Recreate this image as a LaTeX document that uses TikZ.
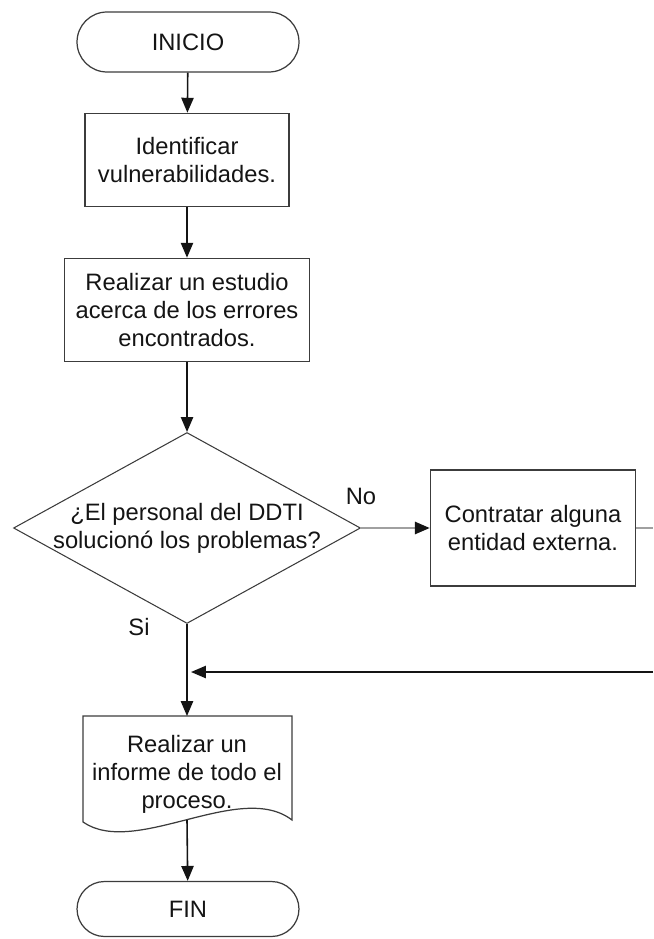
\documentclass[tikz,border=0pt]{standalone}
\usepackage{fontspec}
\setmainfont{Liberation Sans}
\usetikzlibrary{arrows.meta,positioning,shapes.geometric,shapes.misc}
\definecolor{inkcolor}{RGB}{20,20,20}
\definecolor{edgecolor}{RGB}{60,60,60}
\definecolor{nocolor}{RGB}{160,160,160}
\tikzset{
  txt/.style={font=\fontsize{13.5}{15.9}\selectfont, text=inkcolor, align=center},
  termbox/.style={txt, rounded rectangle, draw=edgecolor, line width=0.7pt, minimum width=4.44cm, inner sep=0pt},
  procbox/.style={txt, rectangle, draw=edgecolor, line width=0.9pt, inner sep=0pt},
  decbox/.style={diamond, draw=edgecolor, line width=0.6pt, minimum width=6.94cm, minimum height=3.82cm, inner sep=0pt},
  flowln/.style={-{Triangle[length=8.5pt,width=7pt]}, line width=0.9pt, inkcolor},
  noln/.style={-{Triangle[length=8.5pt,width=7pt,color=inkcolor]}, line width=1.2pt, nocolor},
  stubln/.style={line width=1.2pt, nocolor},
}

\begin{document}
\begin{tikzpicture}[x=0.02cm, y=-0.02cm]
    \useasboundingbox (0,0) rectangle (653,939);
    % terminals and steps
    \node[termbox, minimum height=1.2cm] (start) at (188,42) {INICIO};
    \node[procbox, minimum width=4.08cm, minimum height=1.86cm] (ident) at (187,160)
      {Identificar\\vulnerabilidades.};
    \node[procbox, minimum width=4.9cm, minimum height=2.06cm] (study) at (187,310)
      {Realizar un estudio\\acerca de los errores\\encontrados.};
    \node[decbox, label={[txt]center:{¿El personal del DDTI\\solucionó los problemas?}}]
      (check) at (187,528) {};
    \node[procbox, minimum width=4.1cm, minimum height=2.32cm] (hire) at (533,528)
      {Contratar alguna\\entidad externa.};
    % document shape
    \node[txt] (report) at (187,774) {Realizar un\\informe de todo el\\proceso.};
    \draw[edgecolor, line width=0.7pt] (83,716) -- (292,716) -- (292,820)
      .. controls (240,780) and (135,858) .. (83,822) -- cycle;
    \coordinate (report-top) at (187,716);
    \coordinate (report-bot) at (187,820);
    \node[termbox, minimum height=1.1cm] (fin) at (188,909) {FIN};
    % branch labels
    \node[txt] (nolbl) at (361,496) {No};
    \node[txt] (silbl) at (139,627) {Si};
    % connectors
    \coordinate (cutout) at (653,528);
    \coordinate (cutin) at (653,672);
    \coordinate (merge) at (191,672);
    \draw[flowln] (start) -- (ident);
    \draw[flowln] (ident) -- (study);
    \draw[flowln] (study) -- (check);
    \draw[noln] (check.east) -- (hire);
    \draw[stubln] (hire.east) -- (cutout);
    \draw[flowln] (cutin) -- (merge);
    \draw[flowln] (check.south) -- (report-top);
    \draw[flowln] (report-bot) -- (fin);
  \end{tikzpicture}
\end{document}
